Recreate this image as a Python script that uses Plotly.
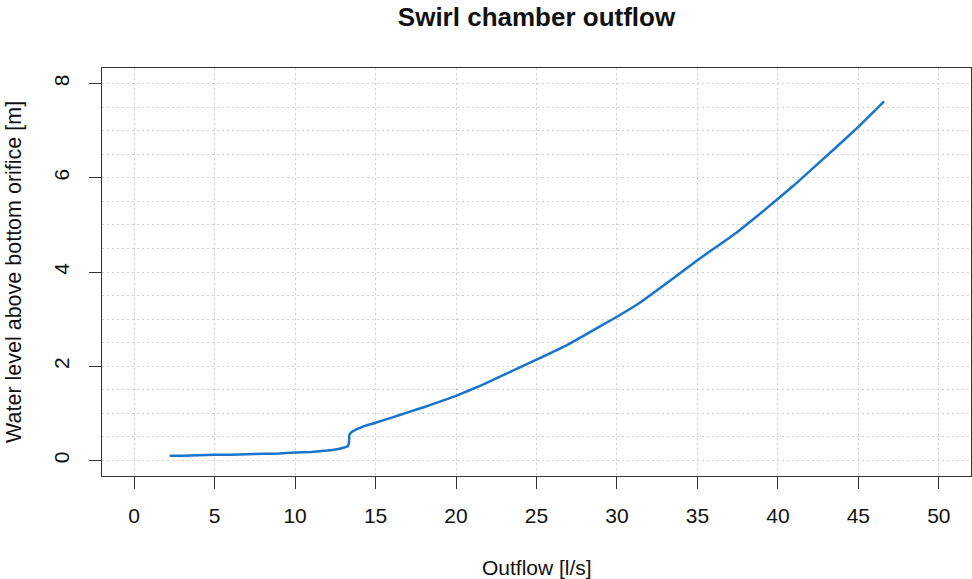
import plotly.graph_objects as go

# Rating curve of the swirl chamber: outflow [l/s] vs water level [m]
outflow = [2.2, 3, 4, 5, 6, 7, 8, 9, 10, 11, 12, 12.6, 13.0, 13.3, 13.35, 13.38,
           13.5, 13.8, 14.3, 15, 16, 17, 18, 19, 20, 21.6, 23, 25, 26.9, 28, 30,
           31.3, 33, 35, 37.4, 39, 41, 43.4, 45, 46.6]
level = [0.10, 0.10, 0.11, 0.12, 0.12, 0.13, 0.14, 0.15, 0.17, 0.18, 0.21, 0.24,
         0.27, 0.31, 0.40, 0.55, 0.60, 0.66, 0.73, 0.80, 0.91, 1.02, 1.13, 1.25,
         1.37, 1.60, 1.82, 2.14, 2.45, 2.66, 3.05, 3.32, 3.74, 4.25, 4.83, 5.27,
         5.84, 6.58, 7.08, 7.62]

x_ticks = [0, 5, 10, 15, 20, 25, 30, 35, 40, 45, 50]
y_ticks = [0, 2, 4, 6, 8]

FONT = "Liberation Sans, Arial, sans-serif"
GRID = "#cfcfcf"
DOTS = "2px,3px"
AXIS = "#333333"
TEXT = "#111111"

fig = go.Figure()
fig.add_trace(go.Scatter(
    x=outflow, y=level, mode="lines",
    line=dict(color="#1874CD", width=2.5, shape="spline", smoothing=0.3),
    hoverinfo="x+y", showlegend=False,
))

fig.update_layout(
    width=972, height=579,
    margin=dict(l=102, r=1, t=68, b=103),
    paper_bgcolor="white", plot_bgcolor="white",
    font=dict(family=FONT, size=21, color=TEXT),
    title=dict(text="<b>Swirl chamber outflow</b>", x=536.5 / 972, xanchor="center",
               y=1 - 17 / 579, yanchor="middle",
               font=dict(size=26, family=FONT, color=TEXT)),
    xaxis=dict(
        range=[-2, 52], tickmode="array", tickvals=x_ticks,
        ticktext=[str(v) for v in x_ticks],
        showgrid=True, gridcolor=GRID, griddash=DOTS, gridwidth=1,
        zeroline=False, showline=True, mirror=True, linecolor=AXIS, linewidth=1,
        ticks="outside", ticklen=12, tickcolor=AXIS, tickwidth=1,
        ticklabelstandoff=9,
        tickfont=dict(size=21, family=FONT, color=TEXT),
    ),
    yaxis=dict(
        range=[-0.33, 8.33], tickmode="array", tickvals=y_ticks,
        ticktext=[str(v) for v in y_ticks], tickangle=-90,
        showgrid=True, gridcolor=GRID, griddash=DOTS, gridwidth=1,
        minor=dict(dtick=0.5, showgrid=True, gridcolor=GRID, griddash=DOTS,
                   gridwidth=1, ticks=""),
        zeroline=False, showline=True, mirror=True, linecolor=AXIS, linewidth=1,
        ticks="outside", ticklen=12, tickcolor=AXIS, tickwidth=1,
        ticklabelstandoff=12,
        tickfont=dict(size=21, family=FONT, color=TEXT),
    ),
    annotations=[
        dict(text="Outflow [l/s]", xref="paper", yref="paper",
             x=0.5, y=-(567 - 476) / 408, xanchor="center", yanchor="middle",
             showarrow=False, font=dict(size=21, family=FONT, color=TEXT)),
        dict(text="Water level above bottom orifice [m]", xref="paper",
             yref="paper", x=-(102 - 14) / 869, y=0.5, xanchor="center",
             yanchor="middle", textangle=-90, showarrow=False,
             font=dict(size=21.5, family=FONT, color=TEXT)),
    ],
)

fig.write_html("out.html")
